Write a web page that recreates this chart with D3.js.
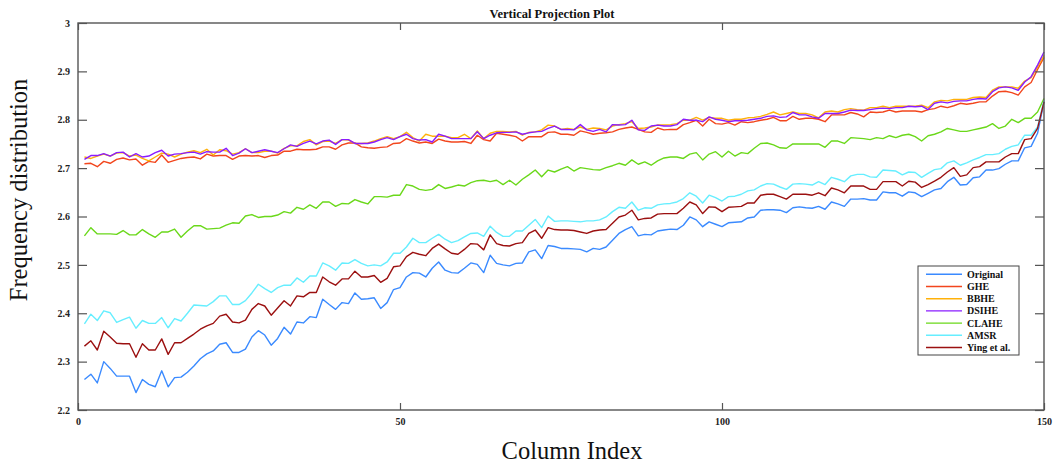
<!DOCTYPE html>
<html>
<head>
<meta charset="utf-8">
<script src="https://cdn.jsdelivr.net/npm/d3@7"></script>
<style>
  html, body { margin: 0; padding: 0; background: #fff; }
  svg { display: block; }
</style>
</head>
<body>
<svg id="chart" width="1053" height="463"></svg>
<script>
// Column projection values for each enhancement method (columns 1..150)
const original = [
  2.263, 2.274, 2.256, 2.300, 2.286, 2.270, 2.270, 2.270, 2.236, 2.263,
  2.253, 2.248, 2.281, 2.248, 2.267, 2.268, 2.278, 2.291, 2.306, 2.316,
  2.322, 2.336, 2.339, 2.319, 2.319, 2.326, 2.351, 2.364, 2.355, 2.334,
  2.348, 2.371, 2.357, 2.382, 2.380, 2.393, 2.391, 2.429, 2.418,
  2.408, 2.422, 2.420, 2.442, 2.429, 2.430, 2.432, 2.410, 2.422, 2.449,
  2.453, 2.475, 2.484, 2.483, 2.475, 2.493, 2.506, 2.489, 2.484, 2.483,
  2.493, 2.504, 2.501, 2.484, 2.520, 2.503, 2.500, 2.498, 2.503, 2.504,
  2.527, 2.531, 2.513, 2.540, 2.538, 2.534, 2.534,
  2.533, 2.532, 2.527, 2.534, 2.532, 2.537, 2.551, 2.565, 2.573, 2.579,
  2.560, 2.563, 2.562, 2.570, 2.572, 2.574, 2.573, 2.582, 2.599, 2.593,
  2.579, 2.589, 2.584, 2.579, 2.587, 2.588, 2.589, 2.597, 2.599, 2.613,
  2.614, 2.614, 2.613, 2.608, 2.618, 2.620, 2.618,
  2.617, 2.621, 2.615, 2.630, 2.626, 2.621, 2.636, 2.636, 2.637, 2.634,
  2.634, 2.651, 2.649, 2.649, 2.642, 2.651, 2.649, 2.641, 2.648, 2.655,
  2.658, 2.672, 2.681, 2.665, 2.666, 2.680, 2.682, 2.696, 2.696, 2.699,
  2.708, 2.715, 2.715, 2.742, 2.745, 2.772, 2.837
];
const ghe = [
  2.709, 2.710, 2.703, 2.714, 2.710, 2.718, 2.721, 2.717, 2.719, 2.706,
  2.714, 2.712, 2.727, 2.712, 2.716, 2.720, 2.722, 2.723, 2.719, 2.729,
  2.725, 2.726, 2.726, 2.718, 2.725, 2.726, 2.725, 2.726, 2.722, 2.726,
  2.727, 2.735, 2.735, 2.739, 2.738, 2.738, 2.739, 2.744, 2.744,
  2.739, 2.748, 2.752, 2.752, 2.744, 2.742, 2.741, 2.743, 2.744, 2.751,
  2.752, 2.761, 2.756, 2.752, 2.754, 2.751, 2.760, 2.756, 2.754, 2.754,
  2.755, 2.751, 2.768, 2.759, 2.756, 2.772, 2.770, 2.768, 2.765, 2.756,
  2.765, 2.765, 2.765, 2.774, 2.775, 2.770, 2.770,
  2.768, 2.777, 2.774, 2.770, 2.772, 2.773, 2.775, 2.780, 2.783, 2.785,
  2.780, 2.775, 2.774, 2.783, 2.779, 2.780, 2.780, 2.790, 2.794, 2.799,
  2.787, 2.801, 2.792, 2.791, 2.794, 2.789, 2.796, 2.794, 2.796, 2.799,
  2.801, 2.805, 2.798, 2.798, 2.807, 2.801, 2.803,
  2.803, 2.801, 2.796, 2.810, 2.810, 2.810, 2.815, 2.812, 2.806, 2.816,
  2.815, 2.816, 2.820, 2.816, 2.818, 2.818, 2.818, 2.816, 2.821, 2.823,
  2.828, 2.825, 2.829, 2.834, 2.832, 2.834, 2.837, 2.837, 2.849, 2.858,
  2.859, 2.856, 2.851, 2.868, 2.877, 2.904, 2.929
];
const bbhe = [
  2.723, 2.720, 2.725, 2.729, 2.725, 2.731, 2.732, 2.725, 2.727, 2.720,
  2.715, 2.723, 2.731, 2.729, 2.723, 2.729, 2.733, 2.736, 2.732, 2.739,
  2.727, 2.738, 2.736, 2.729, 2.732, 2.740, 2.732, 2.732, 2.735, 2.735,
  2.731, 2.741, 2.746, 2.746, 2.755, 2.759, 2.748, 2.755, 2.756,
  2.751, 2.759, 2.758, 2.751, 2.751, 2.752, 2.756, 2.761, 2.765, 2.761,
  2.765, 2.774, 2.763, 2.756, 2.770, 2.766, 2.766, 2.766, 2.763, 2.763,
  2.770, 2.761, 2.777, 2.761, 2.772, 2.776, 2.776, 2.775, 2.776, 2.768,
  2.774, 2.775, 2.779, 2.789, 2.787, 2.780, 2.782,
  2.780, 2.785, 2.780, 2.783, 2.782, 2.779, 2.787, 2.790, 2.792, 2.796,
  2.782, 2.783, 2.785, 2.789, 2.789, 2.790, 2.792, 2.799, 2.799, 2.805,
  2.799, 2.805, 2.803, 2.803, 2.799, 2.801, 2.801, 2.804, 2.805, 2.807,
  2.811, 2.816, 2.810, 2.813, 2.816, 2.813, 2.813,
  2.810, 2.804, 2.816, 2.818, 2.816, 2.821, 2.823, 2.821, 2.820, 2.825,
  2.825, 2.828, 2.825, 2.828, 2.828, 2.828, 2.828, 2.830, 2.825, 2.837,
  2.840, 2.839, 2.842, 2.842, 2.842, 2.846, 2.847, 2.846, 2.861, 2.868,
  2.868, 2.868, 2.865, 2.880, 2.887, 2.909, 2.933
];
const dsihe = [
  2.718, 2.726, 2.726, 2.730, 2.725, 2.732, 2.733, 2.723, 2.730, 2.723,
  2.725, 2.732, 2.737, 2.725, 2.729, 2.730, 2.732, 2.733, 2.729, 2.734,
  2.733, 2.733, 2.741, 2.726, 2.731, 2.740, 2.732, 2.735, 2.738, 2.735,
  2.732, 2.740, 2.748, 2.745, 2.751, 2.756, 2.750, 2.756, 2.758,
  2.749, 2.759, 2.759, 2.751, 2.751, 2.751, 2.754, 2.759, 2.763, 2.759,
  2.765, 2.770, 2.761, 2.758, 2.759, 2.754, 2.770, 2.766, 2.761, 2.761,
  2.761, 2.761, 2.775, 2.761, 2.768, 2.773, 2.774, 2.774, 2.775, 2.770,
  2.773, 2.775, 2.776, 2.782, 2.787, 2.780, 2.780,
  2.779, 2.790, 2.779, 2.776, 2.780, 2.775, 2.790, 2.789, 2.790, 2.799,
  2.779, 2.778, 2.787, 2.789, 2.787, 2.787, 2.790, 2.801, 2.799, 2.799,
  2.796, 2.806, 2.801, 2.799, 2.796, 2.798, 2.798, 2.799, 2.801, 2.803,
  2.807, 2.808, 2.805, 2.806, 2.815, 2.810, 2.810,
  2.806, 2.803, 2.813, 2.813, 2.813, 2.816, 2.820, 2.819, 2.819, 2.821,
  2.823, 2.824, 2.823, 2.825, 2.825, 2.828, 2.827, 2.828, 2.821, 2.834,
  2.837, 2.835, 2.838, 2.839, 2.839, 2.842, 2.844, 2.843, 2.858, 2.866,
  2.868, 2.866, 2.861, 2.878, 2.889, 2.913, 2.940
];
const clahe = [
  2.560, 2.577, 2.564, 2.564, 2.564, 2.563, 2.571, 2.562, 2.562, 2.573,
  2.564, 2.557, 2.568, 2.568, 2.574, 2.557, 2.570, 2.581, 2.581, 2.574,
  2.575, 2.576, 2.582, 2.587, 2.586, 2.601, 2.604, 2.598, 2.600, 2.600,
  2.603, 2.610, 2.607, 2.619, 2.615, 2.624, 2.617, 2.630, 2.630,
  2.621, 2.627, 2.626, 2.635, 2.630, 2.626, 2.641, 2.641, 2.640, 2.644,
  2.644, 2.666, 2.663, 2.656, 2.654, 2.656, 2.666, 2.658, 2.661, 2.665,
  2.663, 2.670, 2.674, 2.675, 2.672, 2.675, 2.666, 2.675, 2.665, 2.677,
  2.686, 2.696, 2.682, 2.696, 2.692, 2.698, 2.703,
  2.694, 2.701, 2.699, 2.697, 2.696, 2.701, 2.705, 2.710, 2.706, 2.717,
  2.708, 2.713, 2.706, 2.715, 2.721, 2.723, 2.723, 2.720, 2.729, 2.732,
  2.717, 2.729, 2.734, 2.723, 2.735, 2.725, 2.732, 2.730, 2.741, 2.751,
  2.752, 2.748, 2.742, 2.741, 2.750, 2.750, 2.750,
  2.750, 2.750, 2.743, 2.756, 2.756, 2.751, 2.763, 2.762, 2.761, 2.759,
  2.763, 2.761, 2.767, 2.763, 2.768, 2.770, 2.765, 2.756, 2.767, 2.770,
  2.775, 2.782, 2.779, 2.776, 2.776, 2.779, 2.782, 2.785, 2.792, 2.782,
  2.787, 2.801, 2.794, 2.803, 2.803, 2.816, 2.844
];
const amsr = [
  2.378, 2.398, 2.385, 2.405, 2.401, 2.381, 2.387, 2.392, 2.369, 2.385,
  2.379, 2.379, 2.391, 2.370, 2.389, 2.384, 2.400, 2.417, 2.416, 2.415,
  2.424, 2.436, 2.436, 2.418, 2.418, 2.426, 2.442, 2.460, 2.451, 2.443,
  2.453, 2.458, 2.458, 2.473, 2.464, 2.477, 2.477, 2.504, 2.498,
  2.489, 2.504, 2.503, 2.511, 2.503, 2.498, 2.500, 2.498, 2.506, 2.524,
  2.524, 2.537, 2.555, 2.546, 2.546, 2.555, 2.563, 2.553, 2.546, 2.550,
  2.558, 2.565, 2.566, 2.559, 2.580, 2.567, 2.559, 2.559, 2.570, 2.570,
  2.582, 2.594, 2.577, 2.601, 2.590, 2.591, 2.591,
  2.590, 2.589, 2.591, 2.591, 2.593, 2.599, 2.610, 2.619, 2.617, 2.630,
  2.613, 2.618, 2.617, 2.624, 2.626, 2.627, 2.630, 2.637, 2.649, 2.642,
  2.628, 2.644, 2.639, 2.632, 2.641, 2.642, 2.646, 2.653, 2.655, 2.663,
  2.668, 2.667, 2.661, 2.656, 2.667, 2.668, 2.667,
  2.665, 2.672, 2.666, 2.681, 2.677, 2.672, 2.684, 2.687, 2.687, 2.682,
  2.681, 2.696, 2.695, 2.694, 2.686, 2.692, 2.691, 2.681, 2.689, 2.697,
  2.699, 2.711, 2.715, 2.706, 2.711, 2.717, 2.722, 2.728, 2.728, 2.730,
  2.739, 2.745, 2.748, 2.768, 2.768, 2.785, 2.840
];
const ying = [
  2.332, 2.343, 2.324, 2.363, 2.351, 2.338, 2.337, 2.337, 2.309, 2.337,
  2.324, 2.324, 2.347, 2.315, 2.339, 2.339, 2.348, 2.357, 2.367, 2.374,
  2.379, 2.394, 2.398, 2.382, 2.380, 2.386, 2.408, 2.420, 2.415, 2.396,
  2.411, 2.426, 2.415, 2.436, 2.434, 2.443, 2.443, 2.475, 2.465,
  2.458, 2.471, 2.471, 2.487, 2.475, 2.475, 2.478, 2.464, 2.472, 2.496,
  2.498, 2.517, 2.526, 2.522, 2.519, 2.534, 2.543, 2.533, 2.524, 2.522,
  2.532, 2.544, 2.543, 2.531, 2.562, 2.544, 2.540, 2.539, 2.544, 2.546,
  2.565, 2.572, 2.555, 2.577, 2.573, 2.572, 2.572,
  2.571, 2.568, 2.565, 2.570, 2.572, 2.573, 2.586, 2.599, 2.603, 2.613,
  2.593, 2.596, 2.597, 2.605, 2.606, 2.606, 2.606, 2.617, 2.630, 2.624,
  2.606, 2.620, 2.619, 2.610, 2.619, 2.620, 2.621, 2.628, 2.628, 2.644,
  2.646, 2.646, 2.641, 2.636, 2.646, 2.646, 2.646,
  2.644, 2.649, 2.643, 2.659, 2.655, 2.649, 2.663, 2.663, 2.663, 2.656,
  2.656, 2.672, 2.672, 2.672, 2.663, 2.673, 2.671, 2.660, 2.666, 2.673,
  2.681, 2.692, 2.701, 2.683, 2.686, 2.701, 2.703, 2.713, 2.713, 2.713,
  2.723, 2.730, 2.730, 2.759, 2.761, 2.782, 2.837
];

const seriesNames = ["Original", "GHE", "BBHE", "DSIHE", "CLAHE", "AMSR", "Ying et al."];
const seriesValues = [original, ghe, bbhe, dsihe, clahe, amsr, ying];
const seriesColors = ["#3a8aff", "#f2461d", "#ffb10a", "#8a1cff", "#6ad81a", "#66eeff", "#9b1010"];

const xTicks = [0, 50, 100, 150];
const yTicks = [2.2, 2.3, 2.4, 2.5, 2.6, 2.7, 2.8, 2.9, 3];

const titleText = "Vertical Projection Plot";
const xLabel = "Column Index";
const yLabel = "Frequency distribution";

// ---- layout ----
const W = 1053, H = 463;
const plot = { left: 78, right: 1044, top: 23, bottom: 410 };
const axisColor = "#555";
const serif = "'Liberation Serif', 'Times New Roman', serif";

const svg = d3.select("#chart");

const x = d3.scaleLinear().domain([0, 150]).range([plot.left, plot.right]);
const y = d3.scaleLinear().domain([2.2, 3]).range([plot.bottom, plot.top]);

// series lines
const line = d3.line()
  .x((d, i) => x(i + 1))
  .y(d => y(d));

const linesG = svg.append("g").attr("class", "lines");
seriesValues.forEach((vals, k) => {
  linesG.append("path")
    .datum(vals)
    .attr("d", line)
    .attr("fill", "none")
    .attr("stroke", seriesColors[k])
    .attr("stroke-width", 1.4)
    .attr("stroke-linejoin", "round");
});

// axes (ticks point inward, box style)
function styleAxis(g) {
  g.selectAll(".domain").remove();
  g.selectAll(".tick line").attr("stroke", axisColor).attr("stroke-width", 1.2);
  g.selectAll(".tick text")
    .attr("fill", "#222")
    .style("font-family", serif)
    .style("font-weight", "bold")
    .style("font-size", "10px");
}

svg.append("g")
  .attr("transform", `translate(${plot.left},0)`)
  .call(d3.axisLeft(y).tickValues(yTicks).tickSize(-9).tickSizeOuter(0).tickPadding(8)
    .tickFormat(d3.format("~g")))
  .call(styleAxis);

svg.append("g")
  .attr("transform", `translate(${plot.right},0)`)
  .call(d3.axisRight(y).tickValues(yTicks).tickSize(-9).tickSizeOuter(0).tickFormat(""))
  .call(styleAxis);

svg.append("g")
  .attr("transform", `translate(0,${plot.bottom})`)
  .call(d3.axisBottom(x).tickValues(xTicks).tickSize(-7).tickSizeOuter(0).tickPadding(8)
    .tickFormat(d3.format("d")))
  .call(styleAxis);

svg.append("g")
  .attr("transform", `translate(0,${plot.top})`)
  .call(d3.axisTop(x).tickValues(xTicks).tickSize(-7).tickSizeOuter(0).tickFormat(""))
  .call(styleAxis);

// frame
svg.append("rect")
  .attr("x", plot.left).attr("y", plot.top)
  .attr("width", plot.right - plot.left)
  .attr("height", plot.bottom - plot.top)
  .attr("fill", "none")
  .attr("stroke", axisColor)
  .attr("stroke-width", 1.4);

// title and axis labels
svg.append("text")
  .attr("x", 552).attr("y", 18)
  .attr("text-anchor", "middle")
  .style("font-family", serif)
  .style("font-weight", "bold")
  .style("font-size", "12.5px")
  .attr("fill", "#111")
  .text(titleText);

svg.append("text")
  .attr("x", 572).attr("y", 459)
  .attr("text-anchor", "middle")
  .style("font-family", serif)
  .style("font-size", "24.5px")
  .attr("fill", "#111")
  .text(xLabel);

svg.append("text")
  .attr("transform", "translate(27,190) rotate(-90)")
  .attr("text-anchor", "middle")
  .style("font-family", serif)
  .style("font-size", "24.5px")
  .attr("fill", "#111")
  .text(yLabel);

// legend
const legend = { x: 918, y: 266, w: 101, h: 89, row0: 274.3, step: 12.2 };
const lg = svg.append("g").attr("class", "legend");
lg.append("rect")
  .attr("x", legend.x).attr("y", legend.y)
  .attr("width", legend.w).attr("height", legend.h)
  .attr("fill", "#fff")
  .attr("stroke", "#444")
  .attr("stroke-width", 1);

seriesNames.forEach((name, k) => {
  const cy = legend.row0 + k * legend.step;
  lg.append("line")
    .attr("x1", legend.x + 8).attr("x2", legend.x + 44)
    .attr("y1", cy).attr("y2", cy)
    .attr("stroke", seriesColors[k])
    .attr("stroke-width", 1.4);
  lg.append("text")
    .attr("x", legend.x + 49).attr("y", cy)
    .attr("dy", "0.35em")
    .style("font-family", serif)
    .style("font-weight", "bold")
    .style("font-size", "10px")
    .attr("fill", "#111")
    .text(name);
});
</script>
</body>
</html>
